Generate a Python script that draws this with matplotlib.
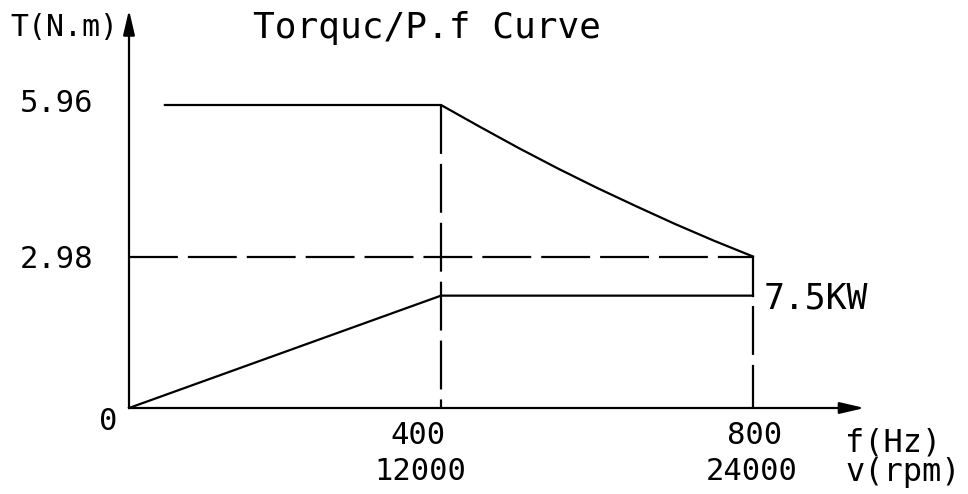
import matplotlib
matplotlib.use("Agg")
import matplotlib.pyplot as plt

# Datos
freq_hz = [0, 400, 800]
rpm = [0, 12000, 24000]
torque_levels = [5.96, 2.98]

# curva de par (N.m)
torque_f = [46, 400, 450, 500, 550, 600, 650, 700, 750, 800]
torque_t = [5.96, 5.96, 5.53, 5.11, 4.71, 4.33, 3.97, 3.62, 3.29, 2.98]

# curva de potencia (escalada sobre el mismo eje)
power_f = [0, 400, 800]
power_t = [0, 2.21, 2.21]
power_label = "7.5KW"

W, H = 968, 494
fig = plt.figure(figsize=(W / 100, H / 100), dpi=100)
ax = fig.add_axes([0, 0, 1, 1])
ax.axis("off")

# escala: 0.78 px por Hz, 151.5 px por 2.98 N.m, origen en (129, 408)
ax.set_xlim(-129 / 0.78, (W - 129) / 0.78)
k = 2.98 / 151.5
ax.set_ylim((408 - H) * k, 408 * k)

lw = 1.6
dash = (0, (22, 4.5))
font = "DejaVu Sans Mono"

# ejes con flecha
arrow = dict(arrowstyle="-|>,head_length=0.6,head_width=0.14", color="black",
             lw=lw, mutation_scale=25, shrinkA=0, shrinkB=0)
ax.annotate("", xy=(0, 7.83), xytext=(0, 0), arrowprops=arrow)
ax.annotate("", xy=(943, 0), xytext=(0, 0), arrowprops=arrow)

# líneas
ax.plot(torque_f, torque_t, color="black", lw=lw)
ax.plot(power_f, power_t, color="black", lw=lw)

# guías discontinuas
ax.plot([0, freq_hz[2]], [torque_levels[1]] * 2, color="black", lw=lw, ls=dash)
ax.plot([freq_hz[1]] * 2, [torque_levels[0], 0], color="black", lw=lw, ls=dash)
ax.plot([freq_hz[2]] * 2, [torque_levels[1], power_t[2]], color="black", lw=lw)
ax.plot([freq_hz[2]] * 2, [power_t[2], 0], color="black", lw=lw, ls=(22, (22, 4.5)))


def txt(px, py, s, size, ha="center"):
    fig.text(px / W, 1 - py / H, s, fontsize=size, family=font,
             ha=ha, va="center")


# textos
txt(64, 28, "T(N.m)", 21.5)
txt(427, 28, "Torquc/P.f Curve", 26)
txt(57, 103, f"{torque_levels[0]:.2f}", 22)
txt(57, 260, f"{torque_levels[1]:.2f}", 22)
txt(108, 421, "0", 22)
txt(418, 435, str(freq_hz[1]), 22)
txt(420, 471, str(rpm[1]), 22)
txt(755, 435, str(freq_hz[2]), 22)
txt(752, 471, str(rpm[2]), 22)
txt(893, 443, "f(Hz)", 23)
txt(903, 472, "v(rpm)", 23)
txt(816, 298, power_label, 25)

fig.savefig("out.png", dpi=100)
